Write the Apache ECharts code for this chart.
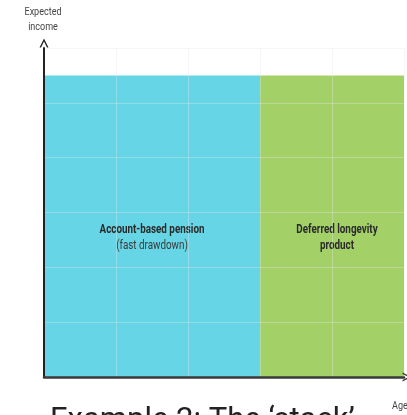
<!DOCTYPE html>
<html>
<head>
<meta charset="utf-8">
<script src="https://cdn.jsdelivr.net/npm/echarts@6/dist/echarts.min.js"></script>
<style>
  html, body { margin: 0; padding: 0; background: #fff; }
  #chart { width: 407px; height: 415px; }
</style>
</head>
<body>
<div id="chart"></div>
<script>
const segmentStart = [0, 3];
const segmentEnd = [3, 5];
const incomeLevel = [5.5, 5.5];
const segmentTitle = ['Account-based pension', 'Deferred longevity'];
const segmentSub = ['(fast drawdown)', 'product'];
const segmentColor = ['#66d5e5', '#a3d168'];

const chart = echarts.init(document.getElementById('chart'));
const font = 'Roboto, sans-serif';
const chevron = 'path://M0,10 L5,0 L10,10 L8.3,10 L5,3.4 L1.7,10 Z';

chart.setOption({
  animation: false,
  grid: { left: 44, right: 3, top: 48, bottom: 38 },
  xAxis: {
    type: 'value',
    min: 0,
    max: 5,
    interval: 1,
    z: 3,
    axisLine: { show: true, symbol: ['none', chevron], symbolSize: [12, 9], symbolOffset: [0, 3], lineStyle: { color: '#3a3a3a', width: 2.5 } },
    axisTick: { show: false },
    axisLabel: { show: false },
    splitLine: { show: true, lineStyle: { color: 'rgba(232,232,232,0.35)', width: 1 } }
  },
  yAxis: {
    type: 'value',
    min: 0,
    max: 6,
    interval: 1,
    z: 3,
    axisLine: { show: true, symbol: ['none', chevron], symbolSize: [12, 9], symbolOffset: [0, 5], lineStyle: { color: '#222', width: 2 } },
    axisTick: { show: false },
    axisLabel: { show: false },
    splitLine: { show: true, lineStyle: { color: 'rgba(232,232,232,0.35)', width: 1 } }
  },
  graphic: [
    { type: 'text', x: 43, y: 5, scaleX: 0.82, style: { x: 0, y: 0, text: 'Expected\nincome', font: '11px ' + font, fill: '#444', align: 'center', lineHeight: 15 } },
    { type: 'text', x: 392, y: 401, scaleX: 0.82, style: { x: 0, y: 0, text: 'Age', font: '11px ' + font, fill: '#444' } },
    { type: 'text', x: 50, y: 406, style: { x: 0, y: 0, text: 'Example 2: The \u2018stack\u2019', font: '31px ' + font, fill: '#222' } }
  ],
  series: [{
    type: 'custom',
    z: 2,
    data: segmentStart.map((s, i) => [s, segmentEnd[i], incomeLevel[i], i]),
    renderItem: (params, api) => {
      const p0 = api.coord([api.value(0), api.value(2)]);
      const p1 = api.coord([api.value(1), 0]);
      const i = api.value(3);
      const cx = (p0[0] + p1[0]) / 2 + (i === 1 ? 5 : 0);
      const cy = api.coord([0, 2.53])[1];
      return {
        type: 'group',
        children: [
          { type: 'rect', shape: { x: p0[0], y: p0[1], width: p1[0] - p0[0], height: p1[1] - p0[1] }, style: { fill: segmentColor[i] } },
          {
            type: 'text', z2: 10, x: cx, y: cy, scaleX: 0.82,
            style: {
              x: 0, y: 0, align: 'center', verticalAlign: 'middle',
              text: '{a|' + segmentTitle[i] + '}\n{' + (i === 0 ? 'b' : 'a') + '|' + segmentSub[i] + '}',
              rich: {
                a: { font: 'bold 12px ' + font, fill: '#2a2a2a', lineHeight: 16 },
                b: { font: '12px ' + font, fill: '#3a3a3a', lineHeight: 16 }
              }
            }
          }
        ]
      };
    }
  }]
});
</script>
</body>
</html>
